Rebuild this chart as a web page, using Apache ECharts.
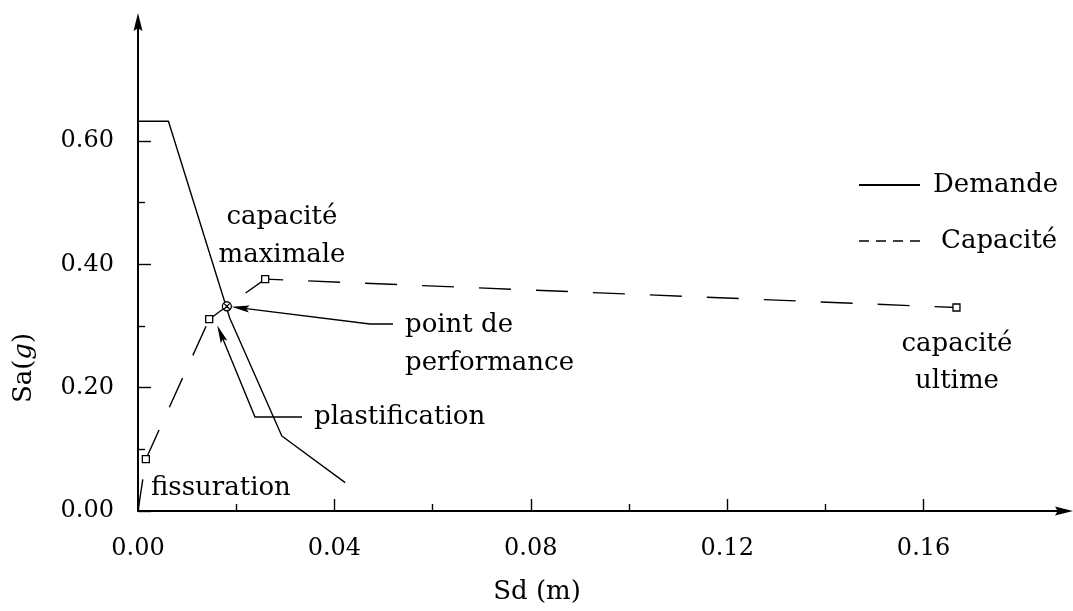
<!DOCTYPE html>
<html>
<head>
<meta charset="utf-8">
<script src="https://cdn.jsdelivr.net/npm/echarts@6/dist/echarts.min.js"></script>
<style>
  html, body { margin: 0; padding: 0; background: #fff; }
  #chart { width: 1073px; height: 611px; }
</style>
</head>
<body>
<div id="chart"></div>
<script>
// Spectre de demande (Sd en m, Sa en g)
const demandeSd = [0, 0.0062, 0.0187, 0.0293, 0.0422];
const demandeSa = [0.632, 0.632, 0.3125, 0.1216, 0.046];

// Courbe de capacité : origine, fissuration, plastification,
// point de performance, capacité maximale, capacité ultime
const capaciteSd = [0, 0.0016, 0.0145, 0.0181, 0.0259, 0.1667];
const capaciteSa = [0, 0.084, 0.311, 0.332, 0.376, 0.330];
const capaciteMarque = ['', 'carre', 'carre', 'cercle', 'carre', 'carre'];

// Graduations
const xMajeures = [0, 0.04, 0.08, 0.12, 0.16];
const xMineures = [0.02, 0.06, 0.10, 0.14];
const yMajeures = [0, 0.2, 0.4, 0.6];
const yMineures = [0.1, 0.3, 0.5];

const POLICE = 'DejaVu Serif';
const FLECHE = 'path://M5,0 L10,20 L5,17 L0,20 Z';
const CERCLE_CROIX = 'path://M10,0A10,10 0 1,1 10,20A10,10 0 1,1 10,0Z M3,3L17,17 M17,3L3,17';

const chart = echarts.init(document.getElementById('chart'), null, { renderer: 'canvas' });

const pts = (xs, ys) => xs.map((x, i) => [x, ys[i]]);
const capacite = pts(capaciteSd, capaciteSa);

// Un tronçon pointillé par segment, pour que le motif reparte à chaque sommet
const dashOffsets = [0, 0, 0, 34, 14];
const troncons = [];
for (let i = 0; i < capacite.length - 1; i++) {
  troncons.push({
    name: 'Capacité',
    type: 'line',
    data: [capacite[i], capacite[i + 1]],
    symbol: 'none',
    silent: true,
    itemStyle: { color: '#000' },
    lineStyle: { color: '#000', width: 1.4, type: [32, 25], dashOffset: dashOffsets[i] }
  });
}

const majorAxisX = {
  type: 'value', min: 0, max: 0.1886, position: 'bottom',
  axisLine: { show: true, symbol: ['none', FLECHE], symbolSize: [9, 18], lineStyle: { color: '#000', width: 2 } },
  axisTick: { show: true, inside: true, length: 12, customValues: xMajeures, lineStyle: { color: '#000', width: 1.4 } },
  axisLabel: { customValues: xMajeures, formatter: v => v.toFixed(2), fontFamily: POLICE, fontSize: 24, color: '#000', margin: 26 },
  splitLine: { show: false }
};
const minorAxisX = {
  type: 'value', min: 0, max: 0.1886, position: 'bottom', offset: 0,
  axisLine: { show: false },
  axisTick: { show: true, inside: true, length: 7, customValues: xMineures, lineStyle: { color: '#000', width: 1.4 } },
  axisLabel: { show: false },
  splitLine: { show: false }
};
const majorAxisY = {
  type: 'value', min: 0, max: 0.793, position: 'left',
  axisLine: { show: true, symbol: ['none', FLECHE], symbolSize: [9, 18], lineStyle: { color: '#000', width: 2 } },
  axisTick: { show: true, inside: true, length: 13, customValues: yMajeures, lineStyle: { color: '#000', width: 1.4 } },
  axisLabel: { customValues: yMajeures, formatter: v => v.toFixed(2), fontFamily: POLICE, fontSize: 24, color: '#000', margin: 24, padding: [8, 0, 0, 0] },
  splitLine: { show: false }
};
const minorAxisY = {
  type: 'value', min: 0, max: 0.793, position: 'left', offset: 0,
  axisLine: { show: false },
  axisTick: { show: true, inside: true, length: 7, customValues: yMineures, lineStyle: { color: '#000', width: 1.4 } },
  axisLabel: { show: false },
  splitLine: { show: false }
};

chart.setOption({
  animation: false,
  backgroundColor: '#fff',
  grid: { left: 138, right: 9, top: 22, bottom: 100, containLabel: false },
  xAxis: [majorAxisX, minorAxisX],
  yAxis: [majorAxisY, minorAxisY],
  legend: {
    orient: 'vertical', left: 858, top: 170, padding: 0,
    itemWidth: 61, itemHeight: 14, itemGap: 26,
    itemStyle: { opacity: 0 },
    textStyle: { fontFamily: POLICE, fontSize: 26, color: '#000', lineHeight: 30 },
    data: [
      { name: 'Demande', textStyle: { padding: [0, 0, 0, 8] } },
      { name: 'Capacité', lineStyle: { type: [10, 7], width: 1.4 }, textStyle: { padding: [0, 0, 0, 16] } }
    ],
    selectedMode: false
  },
  series: [
    {
      name: 'Demande', type: 'line', data: pts(demandeSd, demandeSa),
      symbol: 'none', silent: true,
      itemStyle: { color: '#000' },
      lineStyle: { color: '#000', width: 1.4 }
    },
    ...troncons,
    {
      name: 'repères', type: 'scatter', silent: true, z: 5,
      data: capacite.map((p, i) => ({
        value: p,
        symbol: capaciteMarque[i] === 'cercle' ? CERCLE_CROIX : 'rect',
        symbolSize: capaciteMarque[i] === 'cercle' ? 9 : 7
      })).filter((d, i) => capaciteMarque[i] !== ''),
      itemStyle: { color: '#fff', borderColor: '#000', borderWidth: 1.3, opacity: 1 }
    }
  ]
});

// Annotations : textes et flèches de renvoi
function fleche(points, tip) {
  const [ax, ay] = points[points.length - 1];
  const dx = ax - tip[0], dy = ay - tip[1];
  const L = Math.hypot(dx, dy), ux = dx / L, uy = dy / L;
  const len = 18, half = 3.5;
  const bx = tip[0] + ux * len, by = tip[1] + uy * len;
  const cx = tip[0] + ux * (len - 3), cy = tip[1] + uy * (len - 3);
  return [
    { type: 'polyline', silent: true, shape: { points: points.concat([[cx, cy]]) }, style: { stroke: '#000', lineWidth: 1.4, fill: null } },
    { type: 'polygon', silent: true, shape: { points: [tip, [bx - uy * half, by + ux * half], [cx, cy], [bx + uy * half, by - ux * half]] }, style: { fill: '#000' } }
  ];
}

const px = p => chart.convertToPixel({ xAxisIndex: 0, yAxisIndex: 0 }, p);
const pPlast = px(capacite[2]);
const pPerf = px(capacite[3]);

const texte = (txt, x, y, align, lh, extra) => Object.assign({
  type: 'text', silent: true, x: x, y: y,
  style: { text: txt, fontFamily: POLICE, fontSize: 26, fill: '#000', align: align, verticalAlign: 'middle', lineHeight: lh }
}, extra || {});

chart.setOption({
  graphic: [
    texte('capacité\nmaximale', 282, 236, 'center', 38),
    texte('point de\nperformance', 405, 344, 'left', 38),
    texte('plastification', 314, 417, 'left', 30),
    texte('fissuration', 151, 488, 'left', 30),
    texte('capacité\nultime', 957, 363, 'center', 37),
    texte('Sd (m)', 537, 592, 'center', 30),
    {
      type: 'text', silent: true, x: 24, y: 368, rotation: Math.PI / 2,
      style: {
        text: 'Sa({i|g})', fontFamily: POLICE, fontSize: 26, fill: '#000', align: 'center', verticalAlign: 'middle',
        rich: { i: { fontFamily: POLICE, fontSize: 26, fontStyle: 'italic', fill: '#000' } }
      }
    },
    ...fleche([[393, 324], [370, 324]], [pPerf[0] + 4.5, pPerf[1] + 0.5]),
    ...fleche([[302, 417], [255, 417]], [pPlast[0] + 8, pPlast[1] + 6])
  ]
});
</script>
</body>
</html>
